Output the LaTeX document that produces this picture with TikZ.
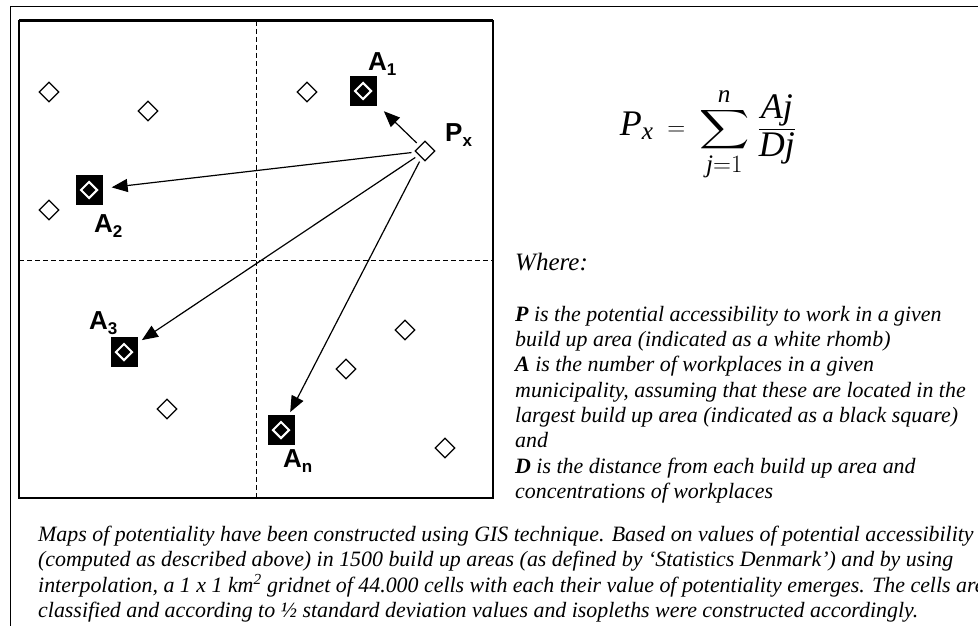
\documentclass[tikz,border=0pt]{standalone}
\usepackage{amsmath}
\usepackage{graphicx}
\usepackage{fontspec}
\setmainfont{Liberation Serif}
\setsansfont{Liberation Sans}
\usetikzlibrary{shapes.geometric,arrows.meta}
\newcommand{\sublab}[2]{#1\raisebox{-5pt}{\fontsize{17}{17}\selectfont #2}}
\newcommand{\bigsum}{\mathop{\vcenter{\hbox{\scalebox{1.4}[1.1]{$\displaystyle\sum$}}}}\limits}
\begin{document}
\begin{tikzpicture}[x=1pt,y=-1pt,
    rhomb/.style={diamond,draw,fill=white,line width=1.3pt,minimum width=20pt,minimum height=20pt,inner sep=0pt},
    blksq/.style={fill=black,minimum width=27pt,minimum height=30pt,inner sep=0pt},
    lab/.style={anchor=base west,inner sep=0pt,font=\sffamily\bfseries\fontsize{26}{26}\selectfont},
    arr/.style={-{Triangle[length=16pt,width=13pt]},line width=1.2pt,shorten <=4pt,shorten >=5pt},
    txt/.style={anchor=north west,inner sep=0pt,align=left,font=\itshape\fontsize{21.9}{25.3}\selectfont}]
    \useasboundingbox (0,0) rectangle (978,626);
    \draw[line width=1pt] (10,626) -- (10,7) -- (978,7);
    % map frame and quadrants
    \draw[line width=1.5pt] (19,21) rectangle (493,498);
    \draw[line width=3pt] (19,21) -- (493,21);
    \draw[dash pattern=on 5pt off 3pt,line width=1pt] (256,21) -- (256,498) (19,260) -- (493,260);
    % build up areas
    \foreach \n/\x/\y in {r1/49/92,r2/148/111,r3/307/92,r4/49/210,r5/405/330,r6/346/369,r7/167/409,r8/445/448}
        \node[rhomb] (\n) at (\x,\y) {};
    \node[rhomb] (px) at (425,151) {};
    % largest build up areas
    \foreach \n/\x/\y in {a1/363/91,a2/89/190,a3/124/352,an/281/430}{
        \node[blksq] (\n) at (\x,\y) {};
        \node[rhomb,draw=white,fill=black,line width=2pt,minimum width=17pt,minimum height=17pt] at (\n) {};
    }
    \node[lab] (la1) at (368,71) {\sublab{A}{1}};
    \node[lab] (la2) at (94,232) {\sublab{A}{2}};
    \node[lab] (la3) at (89,329) {\sublab{A}{3}};
    \node[lab] (lan) at (283,467) {\sublab{A}{n}};
    \node[lab] (lpx) at (445,142) {\sublab{P}{x}};
    \draw[arr,shorten >=10pt] (px) -- (a1);
    \draw[arr,shorten >=9pt] (px) -- (a2);
    \draw[arr] (px) -- (a3);
    \draw[arr,shorten >=3pt] (px) -- (an);
    % formula and explanation
    \node (frm) at (708,134) {\fontsize{36}{44}\selectfont
        $\displaystyle \textit{P}_{\textit{x}} \;=\; \bigsum_{\textit{j}=1}^{\textit{n}} \,\frac{\textit{Aj}}{\textit{Dj}}$};
    \node[anchor=base west,inner sep=0pt,font=\itshape\fontsize{25}{30}\selectfont] (where) at (515,270) {Where:};
    \node[txt] (expl) at (515,306) {\textbf{P} is the potential accessibility to work in a given\\
        build up area (indicated as a white rhomb)\\
        \textbf{A} is the number of workplaces in a given\\
        municipality, assuming that these are located in the\\
        largest build up area (indicated as a black square)\\
        and\\
        \textbf{D} is the distance from each build up area and\\
        concentrations of workplaces};
    \node[txt] (maps) at (38,526) {Maps of potentiality have been constructed using GIS technique. Based on values of potential accessibility\\
        (computed as described above) in 1500 build up areas (as defined by ‘Statistics Denmark’) and by using\\
        interpolation, a 1 x 1 km\textsuperscript{2} gridnet of 44.000 cells with each their value of potentiality emerges. The cells are\\
        classified and according to ½ standard deviation values and isopleths were constructed accordingly.};
\end{tikzpicture}
\end{document}
